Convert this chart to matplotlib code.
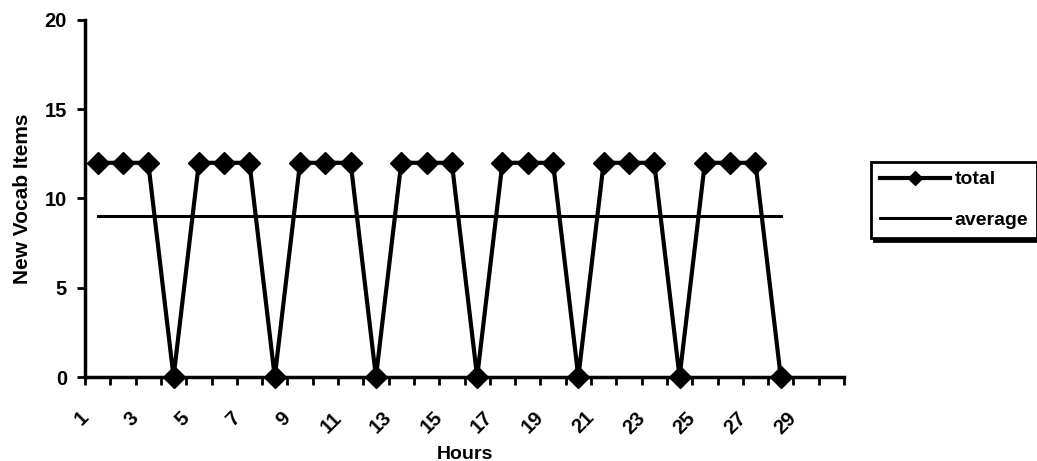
import matplotlib
matplotlib.use('Agg')
import matplotlib.pyplot as plt
from matplotlib.ticker import FixedLocator, NullFormatter, NullLocator
from matplotlib.transforms import ScaledTranslation

# data
hours   = list(range(1, 29))
total   = [12, 12, 12, 0] * 7
average = [9] * 28
tick_hours = list(range(1, 30, 2))

plt.rcParams['font.family'] = ['Liberation Sans', 'DejaVu Sans']
plt.rcParams['font.weight'] = 'bold'

fig = plt.figure(figsize=(10.37, 4.61), dpi=100)
ax = fig.add_axes([85/1037, 84/461, (844-85)/1037, (377-20)/461])

ax.plot(hours, total, color='black', lw=3, marker='D', markersize=11.5,
        label='total', clip_on=False, zorder=3)
ax.plot(hours, average, color='black', lw=2.2, label='average', zorder=2)

ax.set_xlim(0.5, 30.5)
ax.set_ylim(0, 20)
ax.set_yticks([0, 5, 10, 15, 20])

# tick marks on the category boundaries
ax.xaxis.set_major_locator(FixedLocator([h + 0.5 for h in range(0, 31)]))
ax.xaxis.set_major_formatter(NullFormatter())
ax.xaxis.set_minor_locator(NullLocator())
ax.tick_params(axis='x', which='major', length=6, width=2, direction='out')
ax.tick_params(axis='y', length=6, width=2, direction='out', labelsize=14.5, pad=7)

# rotated category labels, Excel style, sitting left of the category centre
lab_tr = ax.get_xaxis_transform() + ScaledTranslation(-0.19, -0.31, fig.dpi_scale_trans)
for h in tick_hours:
    ax.text(h, 0, str(h), transform=lab_tr, rotation=45, ha='right', va='top',
            rotation_mode='anchor', fontsize=14.5, fontweight='bold', clip_on=False)

for s in ['top', 'right']:
    ax.spines[s].set_visible(False)
for s in ['left', 'bottom']:
    ax.spines[s].set_linewidth(2.5)

ax.set_ylabel('New Vocab Items', fontsize=15, fontweight='bold', labelpad=9)
ax.set_xlabel('Hours', fontsize=14, fontweight='bold')
ax.xaxis.set_label_coords(0.5, -0.193)

leg = fig.legend(loc='upper left', bbox_to_anchor=(871/1037, (461-162)/461),
                 fontsize=14, handlelength=3.6, frameon=True, fancybox=False,
                 borderpad=0.45, labelspacing=1.2, handletextpad=0.25,
                 markerscale=0.6, borderaxespad=0,
                 shadow={'color': 'black', 'alpha': 1})
leg.get_frame().set_edgecolor('black')
leg.get_frame().set_linewidth(2)

fig.savefig('out.png', dpi=100)
